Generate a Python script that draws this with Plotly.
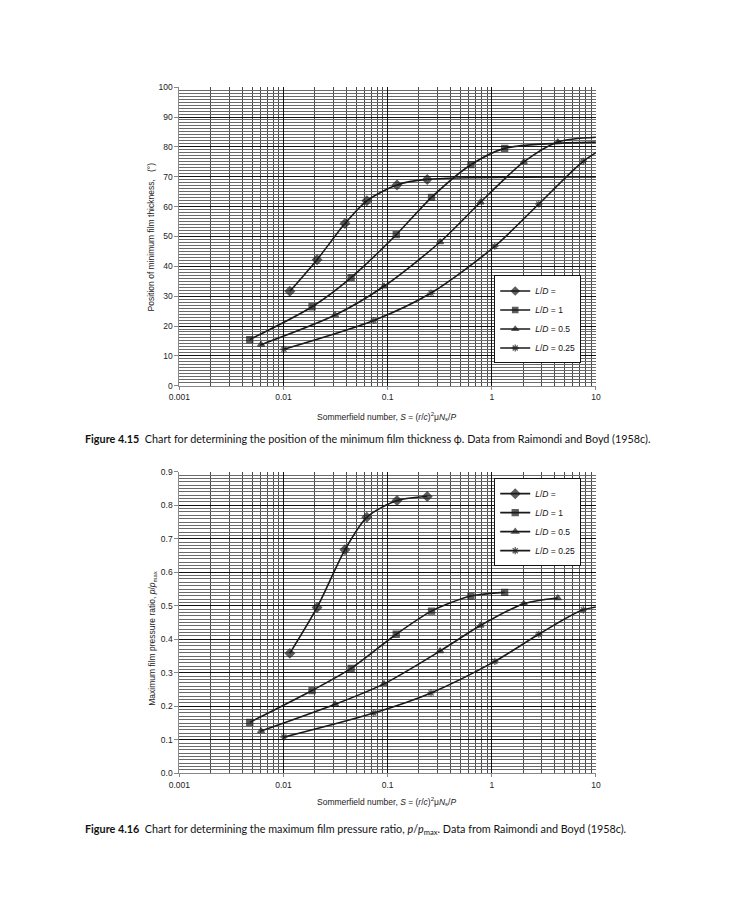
import plotly.graph_objects as go

# ---------------- data (Raimondi & Boyd) ----------------
S_inf = [0.0115, 0.0210, 0.0389, 0.0631, 0.123, 0.240]
S_1 = [0.00474, 0.0188, 0.0446, 0.121, 0.264, 0.631, 1.33]
S_05 = [0.00609, 0.0313, 0.0923, 0.319, 0.779, 2.03, 4.31]
S_025 = [0.0101, 0.0736, 0.261, 1.07, 2.83, 7.57, 16.2]

phi_inf = [31.62, 42.22, 54.31, 61.94, 67.26, 69.10]
phi_1 = [15.47, 26.45, 36.24, 50.58, 63.10, 74.02, 79.50]
phi_05 = [13.75, 23.66, 33.31, 48.14, 61.45, 74.94, 81.62]
phi_025 = [12.22, 21.85, 31.04, 46.72, 60.86, 75.18, 82.31]

# where the phi curves run on to the right edge (S = 10), no marker
phi_edge_S = 10
phi_edge_inf = 69.9
phi_edge_1 = 81.6
phi_edge_05 = 83.2

pr_inf = [0.358, 0.495, 0.667, 0.764, 0.814, 0.826]
pr_1 = [0.152, 0.247, 0.313, 0.415, 0.484, 0.529, 0.540]
pr_05 = [0.126, 0.206, 0.267, 0.365, 0.441, 0.506, 0.523]
pr_025 = [0.108, 0.180, 0.240, 0.334, 0.415, 0.488, 0.504]

names = ["<i>L</i>/<i>D</i> = ", "<i>L</i>/<i>D</i> = 1", "<i>L</i>/<i>D</i> = 0.5", "<i>L</i>/<i>D</i> = 0.25"]
symbols = ["diamond", "square", "triangle-up", "asterisk-open"]

# page has an 8px body margin; figure fills the rest of the 737x900 window
OFF = 8
W, H = 737 - 2 * OFF, 900 - 2 * OFF
def px(x):
    return (x - OFF) / W
def py(y):
    return 1 - (y - OFF) / H

XD = [px(172), px(598)]
Y1 = [py(385), py(83)]
Y2 = [py(777), py(472)]

LINE = "#1a1a1a"
fig = go.Figure()

def add_series(xs, ys, name, sym, xa, ya, legend, extra=None):
    xs = list(xs); ys = list(ys)
    base = {"diamond": 7, "square": 6, "triangle-up": 6, "asterisk-open": 6}[sym]
    sizes = [base] * len(xs)
    if extra is not None:
        xs.append(extra[0]); ys.append(extra[1]); sizes.append(0)
    fig.add_trace(go.Scatter(
        x=xs, y=ys, name=name, mode="lines+markers",
        line=dict(color=LINE, width=1.6, shape="spline", smoothing=0.8),
        marker=dict(symbol=sym, size=sizes, color=LINE,
                    line=dict(color=LINE, width=1.3)),
        xaxis=xa, yaxis=ya, showlegend=True, legend=legend,
        cliponaxis=True,
    ))

add_series(S_inf, phi_inf, names[0], symbols[0], "x", "y", "legend", (phi_edge_S, phi_edge_inf))
add_series(S_1, phi_1, names[1], symbols[1], "x", "y", "legend", (phi_edge_S, phi_edge_1))
add_series(S_05, phi_05, names[2], symbols[2], "x", "y", "legend", (phi_edge_S, phi_edge_05))
add_series(S_025, phi_025, names[3], symbols[3], "x", "y", "legend")

add_series(S_inf, pr_inf, names[0], symbols[0], "x2", "y2", "legend2")
add_series(S_1, pr_1, names[1], symbols[1], "x2", "y2", "legend2")
add_series(S_05, pr_05, names[2], symbols[2], "x2", "y2", "legend2")
add_series(S_025, pr_025, names[3], symbols[3], "x2", "y2", "legend2")

TICKF = dict(family="Liberation Sans, Arial, sans-serif", size=8.5, color="#222")
decades = [0.001, 0.01, 0.1, 1, 10]
minor_vals = [m * d for d in [0.001, 0.01, 0.1, 1] for m in range(2, 10)]

def xaxis_cfg(anchor):
    return dict(
        type="log", range=[-3, 1], domain=XD, anchor=anchor,
        tickmode="array",
        tickvals=decades, ticktext=["0.001", "0.01", "0.1", "1", "10"],
        showgrid=True, gridcolor="#111", gridwidth=1,
        ticks="outside", ticklen=3, tickcolor="#888",
        showline=True, linecolor="#888", linewidth=1,
        tickfont=TICKF, zeroline=False,
        minor=dict(tickmode="array", tickvals=minor_vals, showgrid=True,
                   gridcolor="#4a4a4a", gridwidth=1, ticks=""),
    )

def yaxis_cfg(anchor, domain, rng, dt, mdt, fmt):
    return dict(
        range=rng, domain=domain, anchor=anchor, dtick=dt, tick0=0,
        showgrid=True, gridcolor="#111", gridwidth=1,
        ticks="outside", ticklen=4, tickcolor="#888",
        showline=True, linecolor="#888", linewidth=1,
        tickfont=TICKF, zeroline=False, tickformat=fmt,
        minor=dict(dtick=mdt, tick0=0, showgrid=True, gridcolor="#6a6a6a", gridwidth=1, ticks=""),
    )

LEGF = dict(family="Liberation Sans, Arial, sans-serif", size=8.5, color="#111")
legend_common = dict(xanchor="left", yanchor="middle",
                     bgcolor="white", bordercolor="#111", borderwidth=1,
                     font=LEGF, itemwidth=30, tracegroupgap=0)
fig.update_layout(
    width=W, height=H, margin=dict(l=0, r=0, t=0, b=0),
    paper_bgcolor="white", plot_bgcolor="white",
    xaxis=xaxis_cfg("y"),
    yaxis=yaxis_cfg("x", Y1, [0, 100], 10, 1, "d"),
    xaxis2=xaxis_cfg("y2"),
    yaxis2=yaxis_cfg("x2", Y2, [0, 0.9], 0.1, 0.01, ".1f"),
    legend=dict(x=px(494), y=py(318), **legend_common),
    legend2=dict(x=px(494), y=py(523), **legend_common),
    showlegend=True,
)

TF = dict(family="Liberation Sans, Arial, sans-serif", size=8.5, color="#222")
CF = dict(family="Lato, Open Sans, sans-serif", size=10.8, color="#111")
xtitle = "Sommerfield number, <i>S</i> = (<i>r</i>/<i>c</i>)<sup>2</sup>μ<i>N</i><sub>s</sub>/<i>P</i>"
ann = [
    dict(x=px(384), y=py(416), text=xtitle, font=TF),
    dict(x=px(384), y=py(806), text=xtitle, font=TF),
    dict(x=px(143), y=py(235), text="Position of minimum film thickness,   (°)", textangle=-90, font=TF),
    dict(x=px(145), y=py(640), text="Maximum film pressure ratio, <i>p</i>/<i>p</i><sub>max</sub>", textangle=-90, font=TF),
    dict(x=px(73), y=py(438), xanchor="left",
         text="<b>Figure 4.15</b>  Chart for determining the position of the minimum film thickness ϕ. Data from Raimondi and Boyd (1958c).",
         font=CF),
    dict(x=px(73), y=py(834), xanchor="left",
         text="<b>Figure 4.16</b>  Chart for determining the maximum film pressure ratio, <i>p</i>/<i>p</i><sub>max</sub>. Data from Raimondi and Boyd (1958c).",
         font=CF),
]
for a in ann:
    a.setdefault("xanchor", "center")
    a.update(xref="paper", yref="paper", yanchor="middle", showarrow=False)
fig.update_layout(annotations=ann)

fig.write_html("out.html")
